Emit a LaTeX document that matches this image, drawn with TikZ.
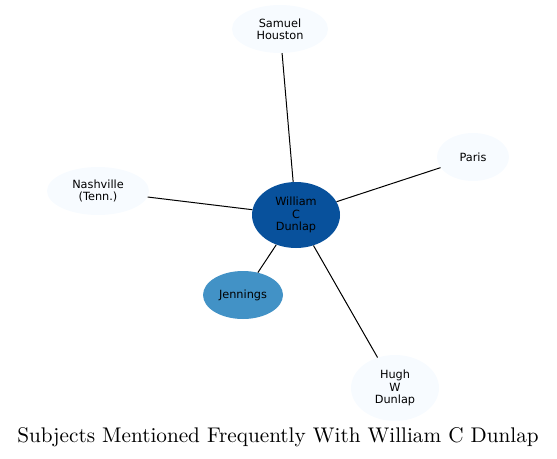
\documentclass[tikz,border=0pt]{standalone}
\usepackage{fontspec}
\newfontfamily\dejavu{DejaVu Sans}
\newfontfamily\lmten{lmroman10-regular.otf}
\usetikzlibrary{shapes.geometric}
\definecolor{lightnode}{HTML}{F7FBFF}
\definecolor{midnode}{HTML}{4292C6}
\definecolor{darknode}{HTML}{08519C}
\tikzset{
  ent/.style={ellipse, inner sep=0pt, font=\dejavu\fontsize{11.3}{12.3}\selectfont, align=center, text=black},
  light/.style={ent, fill=lightnode},
  edge/.style={draw=black, line width=1pt}
}
\begin{document}
\begin{tikzpicture}[x=1pt,y=-1pt]
\useasboundingbox (0,0) rectangle (557,458);
\node[ent, fill=darknode, minimum width=88pt, minimum height=66pt] (wcd) at (296,215) {William\\C\\Dunlap};
\node[light, minimum width=96pt, minimum height=48pt] (sh) at (280,29) {Samuel\\Houston};
\node[light, minimum width=72pt, minimum height=48pt] (paris) at (473,157) {Paris};
\node[light, minimum width=102pt, minimum height=48pt] (nash) at (98,191) {Nashville\\(Tenn.)};
\node[ent, fill=midnode, minimum width=80pt, minimum height=48pt] (jen) at (243,295) {Jennings};
\node[light, minimum width=88pt, minimum height=66pt] (hwd) at (395,388) {Hugh\\W\\Dunlap};
\draw[edge] (wcd) -- (sh);
\draw[edge] (wcd) -- (paris);
\draw[edge] (wcd) -- (nash);
\draw[edge] (wcd) -- (jen);
\draw[edge] (wcd) -- (hwd);
\node[font=\lmten\fontsize{21.2}{23}\selectfont] (title) at (278,437) {Subjects Mentioned Frequently With William C Dunlap};
\end{tikzpicture}
\end{document}
